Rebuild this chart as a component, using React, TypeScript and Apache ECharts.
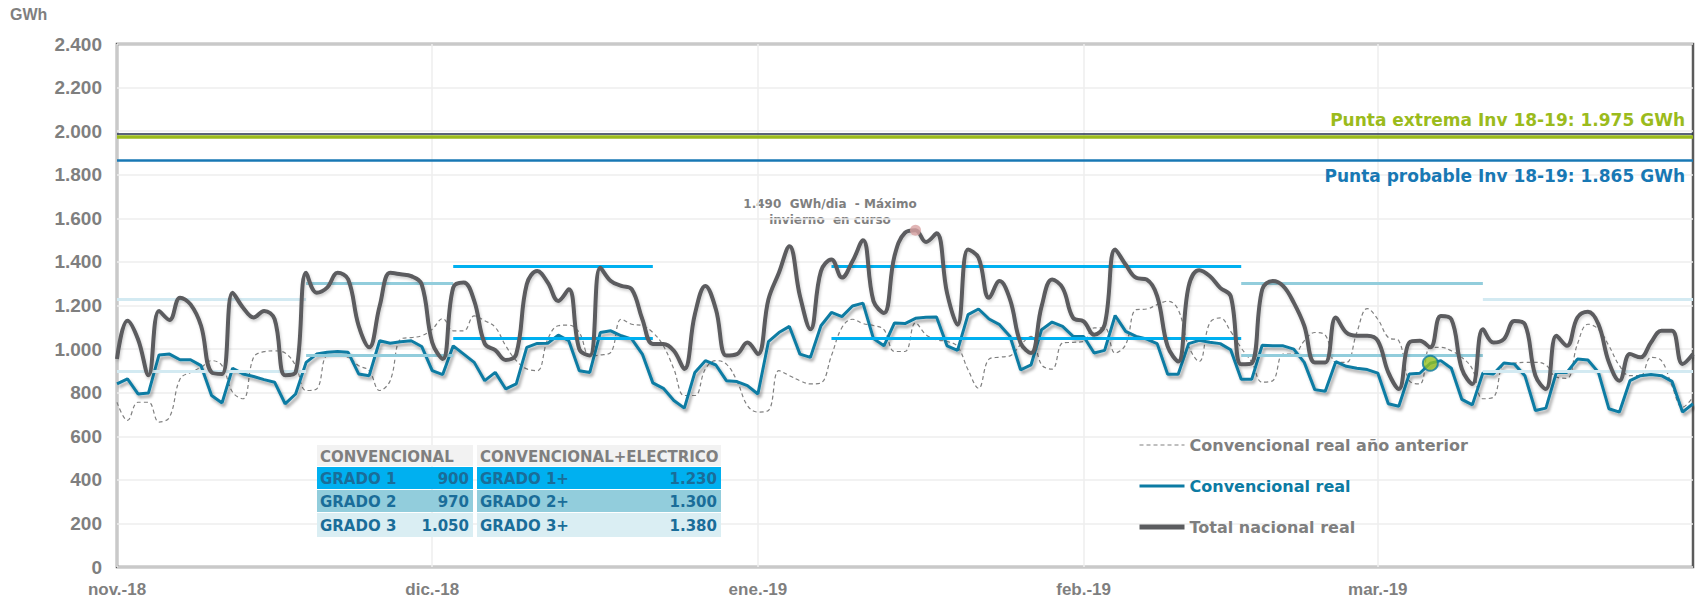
import React, { useEffect, useRef } from 'react';
import * as echarts from 'echarts';

// ---------- data ----------
const monthDefs = [
  { label: 'nov.-18', ym: '2018-11', days: 30 },
  { label: 'dic.-18', ym: '2018-12', days: 31 },
  { label: 'ene.-19', ym: '2019-01', days: 31 },
  { label: 'feb.-19', ym: '2019-02', days: 28 },
  { label: 'mar.-19', ym: '2019-03', days: 31 },
];

const categories: string[] = [];
const monthStartLabel: Record<number, string> = {};
monthDefs.forEach((m) => {
  monthStartLabel[categories.length] = m.label;
  for (let d = 1; d <= m.days; d++) categories.push(`${m.ym}-${String(d).padStart(2, '0')}`);
});

const totalReal = [
  955, 1130, 1045, 880, 1175, 1134, 1236, 1205, 1107, 893,
  886, 1259, 1190, 1145, 1175, 1137, 880, 893, 1350, 1259,
  1282, 1350, 1320, 1107, 1008, 1198, 1350, 1343, 1335, 1297,
  1030, 955, 1282, 1305, 1221, 1025, 995, 950, 977, 1297,
  1358, 1305, 1221, 1274, 1000, 970, 1373, 1312, 1290, 1274,
  1137, 1023, 1023, 992, 909, 1160, 1290, 1183, 970, 977,
  1030, 977, 1228, 1350, 1472, 1244, 1091, 1358, 1411, 1328,
  1403, 1500, 1220, 1166, 1427, 1534, 1545, 1491, 1531, 1258,
  1112, 1457, 1419, 1235, 1312, 1227, 1028, 982, 1196, 1319,
  1281, 1143, 1127, 1066, 1112, 1457, 1388, 1327, 1319, 1243,
  1012, 943, 1289, 1362, 1335, 1281, 1243, 930, 935, 1274,
  1312, 1289, 1213, 1107, 939, 939, 1145, 1076, 1061, 1061,
  1038, 893, 817, 1030, 1038, 1008, 1152, 1137, 909, 840,
  1091, 1030, 1046, 1129, 1114, 878, 817, 1061, 1015, 1145,
  1171, 1114, 939, 855, 977, 962, 1030, 1084, 1084, 931,
  977,
];

const convReal = [
  840, 863, 794, 799, 973, 977, 951, 951, 924, 787,
  753, 912, 886, 874, 860, 848, 749, 794, 939, 977,
  985, 989, 985, 886, 878, 1038, 1027, 1034, 1038, 1012,
  901, 883, 1015, 977, 939, 855, 893, 817, 840, 1008,
  1026, 1027, 1064, 1038, 901, 893, 1076, 1084, 1061, 1046,
  977, 845, 820, 764, 729, 893, 947, 927, 855, 851,
  832, 794, 1034, 1076, 1104, 977, 962, 1107, 1168, 1149,
  1198, 1211, 1048, 1015, 1120, 1117, 1141, 1146, 1147, 1015,
  994, 1158, 1184, 1138, 1112, 1058, 905, 928, 1089, 1124,
  1104, 1058, 1058, 982, 994, 1154, 1081, 1058, 1046, 1025,
  885, 885, 1025, 1040, 1031, 1025, 997, 861, 861, 1018,
  1015, 1015, 1000, 939, 814, 807, 942, 921, 912, 906,
  890, 749, 738, 886, 889, 935, 947, 912, 769, 744,
  890, 886, 936, 931, 878, 718, 729, 893, 893, 954,
  950, 893, 726, 711, 855, 878, 883, 878, 852, 711,
  749,
];

const convPrevYear = [
  756, 673, 756, 756, 665, 688, 863, 893, 916, 947,
  924, 802, 772, 962, 988, 992, 982, 924, 810, 817,
  970, 973, 962, 924, 901, 810, 855, 1046, 1053, 1061,
  1091, 1140, 1084, 1084, 1152, 1130, 1100, 1015, 947, 909,
  901, 1046, 1107, 1110, 1076, 970, 973, 985, 1137, 1114,
  1107, 1076, 1015, 909, 787, 787, 909, 947, 931, 855,
  741, 711, 718, 901, 878, 855, 840, 845, 970, 1099,
  1137, 1117, 1108, 1089, 989, 989, 1120, 1066, 1043, 1035,
  1012, 905, 820, 954, 963, 969, 1020, 1058, 928, 908,
  1028, 1031, 1035, 1097, 1097, 982, 1020, 1181, 1184, 1204,
  1220, 1181, 1012, 943, 1120, 1143, 1081, 1005, 940, 848,
  855, 977, 977, 1038, 1076, 1064, 939, 939, 1076, 1186,
  1137, 1053, 1038, 855, 840, 1008, 1008, 992, 962, 909,
  772, 779, 931, 936, 939, 939, 927, 871, 866, 1023,
  1114, 1091, 1015, 924, 878, 878, 962, 947, 832, 733,
  779,
];

// grade thresholds (table)
const gradeNames = ['GRADO 1', 'GRADO 2', 'GRADO 3'];
const gradeConv = [900, 970, 1050];
const gradePlusNames = ['GRADO 1+', 'GRADO 2+', 'GRADO 3+'];
const gradePlus = [1230, 1300, 1380];

// periods where threshold lines are drawn: [start, end, grade index]
const gradePeriods: [string, string, number][] = [
  ['2018-11-01', '2018-11-19', 0],
  ['2018-11-19', '2018-12-03', 1],
  ['2018-12-03', '2018-12-22', 2],
  ['2019-01-08', '2019-02-16', 2],
  ['2019-02-16', '2019-03-11', 1],
  ['2019-03-11', '2019-03-31', 0],
];

const puntaExtrema = 1975;
const puntaProbable = 1865;
const maxDay = '2019-01-16';
const markDay = '2019-03-06';

// ---------- styles ----------
const GRAY = '#7F7F7F';
const TEAL = '#0C7BA3';
const TOTAL = '#5B5C5F';
const GREEN = '#9BBB1C';
const BLUE = '#1878B4';
const rowColors = ['#00B0F0', '#92CDDC', '#DAEEF3'];
const lineColors = ['#D3EAF2', '#92CDDC', '#00B0F0'];
const TABLE_TEXT = '#1A6D99';
const VFONT = '"DejaVu Sans", Verdana, sans-serif';
const AFONT = '"Liberation Sans", Arial, sans-serif';

const fmt = (v: number) =>
  v >= 1000 ? `${Math.floor(v / 1000)}.${String(v % 1000).padStart(3, '0')}` : String(v);

function buildTable() {
  const els: any[] = [];
  const L = { x: 317, w: 156 };
  const R = { x: 477, w: 244 };
  const rows = [
    { y: 445, h: 21 },
    { y: 467, h: 22 },
    { y: 490, h: 22 },
    { y: 513, h: 24 },
  ];
  const Z = 100;
  [L, R].forEach((t) =>
    els.push({ type: 'rect', z: Z, shape: { x: t.x, y: rows[0].y, width: t.w, height: rows[0].h }, style: { fill: '#F2F2F2' } })
  );
  const font = `bold 15px ${VFONT}`;
  els.push({ type: 'text', z: Z + 1, x: L.x + 3, y: rows[0].y + rows[0].h / 2 + 1, style: { text: 'CONVENCIONAL', font, fill: GRAY, verticalAlign: 'middle' } });
  els.push({ type: 'text', z: Z + 1, x: R.x + 3, y: rows[0].y + rows[0].h / 2 + 1, style: { text: 'CONVENCIONAL+ELECTRICO', font, fill: GRAY, verticalAlign: 'middle' } });
  for (let i = 0; i < 3; i++) {
    const r = rows[i + 1];
    const cy = r.y + r.h / 2 + 1;
    [L, R].forEach((t) =>
      els.push({ type: 'rect', z: Z, shape: { x: t.x, y: r.y, width: t.w, height: r.h }, style: { fill: rowColors[i] } })
    );
    els.push({ type: 'text', z: Z + 1, x: L.x + 3, y: cy, style: { text: gradeNames[i], font, fill: TABLE_TEXT, verticalAlign: 'middle' } });
    els.push({ type: 'text', z: Z + 1, x: L.x + L.w - 4, y: cy, style: { text: fmt(gradeConv[i]), font, fill: TABLE_TEXT, align: 'right', verticalAlign: 'middle' } });
    els.push({ type: 'text', z: Z + 1, x: R.x + 3, y: cy, style: { text: gradePlusNames[i], font, fill: TABLE_TEXT, verticalAlign: 'middle' } });
    els.push({ type: 'text', z: Z + 1, x: R.x + R.w - 4, y: cy, style: { text: fmt(gradePlus[i]), font, fill: TABLE_TEXT, align: 'right', verticalAlign: 'middle' } });
  }
  return els;
}

function buildOption(): any {
  const monthIdx = (i: number) => monthStartLabel[i] !== undefined;
  const segData: any[] = [];
  gradePeriods.forEach(([s, e, g]) => {
    [gradeConv[g], gradePlus[g]].forEach((lv) => {
      segData.push([
        { coord: [s, lv], lineStyle: { color: lineColors[g], width: 3, type: 'solid' } },
        { coord: [e, lv] },
      ]);
    });
  });
  const lineShadow = { shadowColor: 'rgba(0,0,0,0.35)', shadowBlur: 3, shadowOffsetX: 2, shadowOffsetY: 3 };

  return {
    animation: false,
    backgroundColor: '#ffffff',
    grid: { left: 117, right: 7, top: 44, bottom: 33, show: true, borderColor: '#5B5B5B', borderWidth: 2.5 },
    xAxis: {
      type: 'category',
      data: categories,
      boundaryGap: false,
      axisLine: { show: false },
      axisTick: { show: false },
      axisLabel: {
        interval: (i: number) => monthIdx(i),
        formatter: (_v: string, i: number) => monthStartLabel[i] ?? '',
        color: GRAY,
        fontWeight: 'bold',
        fontSize: 17,
        fontFamily: AFONT,
        margin: 14,
        hideOverlap: false,
      },
      splitLine: { show: true, interval: (i: number) => monthIdx(i), lineStyle: { color: '#EEEEEE', width: 1.5 } },
    },
    yAxis: {
      type: 'value',
      min: 0,
      max: 2400,
      interval: 200,
      axisLine: { show: false },
      axisTick: { show: false },
      axisLabel: { formatter: (v: number) => fmt(v), color: GRAY, fontWeight: 'bold', fontSize: 19, fontFamily: AFONT, margin: 15 },
      splitLine: { lineStyle: { color: '#EEEEEE', width: 1.5 } },
    },
    legend: {
      orient: 'vertical',
      left: 1132,
      top: 430,
      itemWidth: 45,
      itemHeight: 20,
      itemGap: 21,
      selectedMode: false,
      itemStyle: { opacity: 0 },
      textStyle: { fontSize: 16, fontWeight: 'bold', fontFamily: VFONT, color: GRAY, lineHeight: 20 },
      data: [
        { name: 'Convencional real año anterior', textStyle: { color: GRAY }, lineStyle: { width: 1.2, color: '#808080', type: [4, 3] } },
        { name: 'Convencional real', textStyle: { color: TEAL }, lineStyle: { width: 3, color: TEAL } },
        { name: 'Total nacional real', textStyle: { color: GRAY }, lineStyle: { width: 5, color: TOTAL } },
      ],
    },
    graphic: [
      { type: 'text', x: 10, y: 14, style: { text: 'GWh', font: `bold 16px ${AFONT}`, fill: GRAY, verticalAlign: 'middle' } },
      {
        type: 'text',
        x: 830,
        y: 212,
        style: {
          text: '1.490  GWh/dia  - Máximo\ninvierno  en curso',
          font: `bold 12px ${VFONT}`,
          fill: GRAY,
          align: 'center',
          verticalAlign: 'middle',
          lineHeight: 16,
        },
      },
      ...buildTable(),
    ],
    series: [
      {
        name: 'grades',
        type: 'line',
        data: [],
        silent: true,
        z: 1,
        markLine: { silent: true, symbol: ['none', 'none'], label: { show: false }, data: segData },
      },
      {
        name: 'puntas',
        type: 'line',
        data: [],
        silent: true,
        z: 1,
        markLine: {
          silent: true,
          symbol: ['none', 'none'],
          data: [
            { yAxis: 1986, lineStyle: { color: '#24304D', width: 1.5, type: 'solid' }, label: { show: false } },
            {
              yAxis: puntaExtrema,
              lineStyle: { color: GREEN, width: 3.5, type: 'solid' },
              label: {
                show: true,
                position: 'insideEndTop',
                formatter: `Punta extrema Inv 18-19: ${fmt(puntaExtrema)} GWh`,
                color: GREEN,
                fontWeight: 'bold',
                fontSize: 17,
                fontFamily: VFONT,
                distance: [8, 8],
              },
            },
            {
              yAxis: puntaProbable,
              lineStyle: { color: BLUE, width: 2.5, type: 'solid' },
              label: {
                show: true,
                position: 'insideEndBottom',
                formatter: `Punta probable Inv 18-19: ${fmt(puntaProbable)} GWh`,
                color: BLUE,
                fontWeight: 'bold',
                fontSize: 17,
                fontFamily: VFONT,
                distance: [8, 7],
              },
            },
          ],
        },
      },
      {
        name: 'Convencional real año anterior',
        type: 'line',
        data: convPrevYear,
        symbol: 'none',
        smooth: 0.4,
        z: 3,
        lineStyle: { color: '#808080', width: 1.2, type: [4, 3] },
        itemStyle: { color: '#808080' },
      },
      {
        name: 'Convencional real',
        type: 'line',
        data: convReal,
        symbol: 'none',
        z: 4,
        lineStyle: { color: TEAL, width: 3, ...lineShadow },
        itemStyle: { color: TEAL },
      },
      {
        name: 'Total nacional real',
        type: 'line',
        data: totalReal,
        symbol: 'none',
        smooth: 0.4,
        z: 5,
        lineStyle: { color: TOTAL, width: 4, shadowColor: 'rgba(0,0,0,0.2)', shadowBlur: 3, shadowOffsetX: 1, shadowOffsetY: 2 },
        itemStyle: { color: TOTAL },
      },
      {
        name: 'maximo',
        type: 'scatter',
        z: 6,
        symbolSize: 11,
        data: [[maxDay, totalReal[categories.indexOf(maxDay)]]],
        itemStyle: { color: '#D9A3A3' },
      },
      {
        name: 'hoy',
        type: 'scatter',
        z: 6,
        symbolSize: 15,
        data: [[markDay, convReal[categories.indexOf(markDay)]]],
        itemStyle: { color: '#96C11F', borderColor: TEAL, borderWidth: 2 },
      },
    ],
  };
}

export default function App() {
  const ref = useRef<HTMLDivElement>(null);
  useEffect(() => {
    if (!ref.current) return;
    const chart = echarts.init(ref.current, null, { renderer: 'svg' });
    chart.setOption(buildOption());
    return () => chart.dispose();
  }, []);
  return (
    <div
      ref={ref}
      style={{ position: 'fixed', left: 0, top: 0, width: 1700, height: 600, background: '#ffffff' }}
    />
  );
}
